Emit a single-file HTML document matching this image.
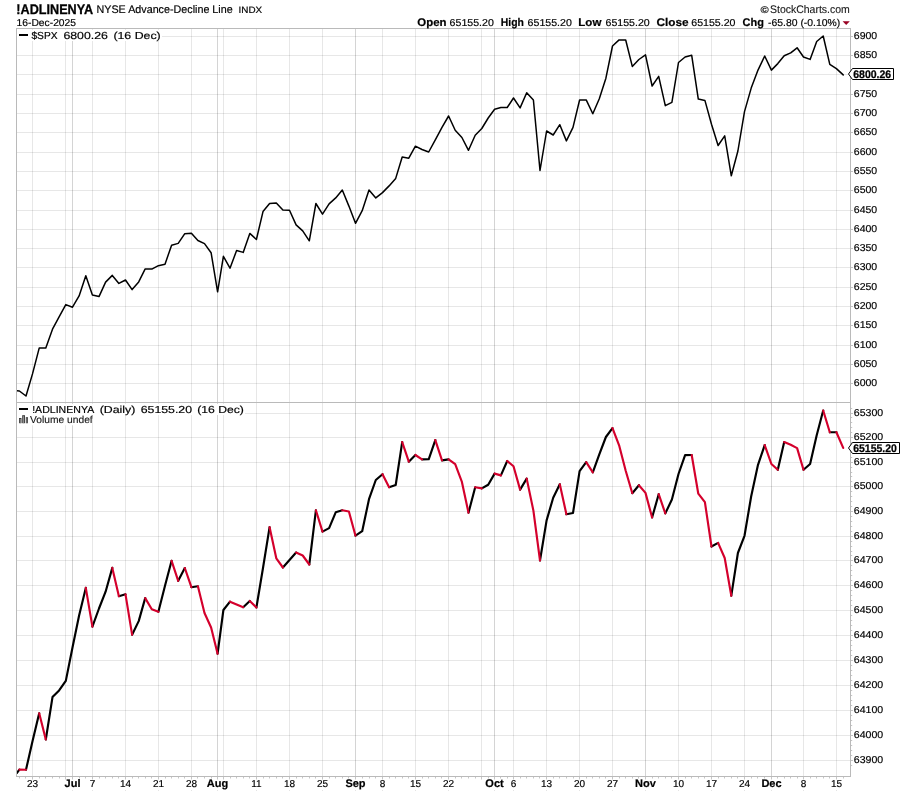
<!DOCTYPE html>
<html><head><meta charset="utf-8"><title>!ADLINENYA</title>
<style>html,body{margin:0;padding:0;background:#fff}body{width:900px;height:792px;overflow:hidden}svg{display:block}text{font-family:"Liberation Sans",sans-serif;fill:#000;text-rendering:geometricPrecision}.b{font-weight:bold}</style></head><body>
<svg width="900" height="792" viewBox="0 0 900 792" style="will-change:transform">
<rect width="900" height="792" fill="#fff"/>
<path d="M16.5 36.5H850.5M16.5 55.5H850.5M16.5 74.5H850.5M16.5 94.5H850.5M16.5 113.5H850.5M16.5 132.5H850.5M16.5 152.5H850.5M16.5 171.5H850.5M16.5 190.5H850.5M16.5 210.5H850.5M16.5 229.5H850.5M16.5 248.5H850.5M16.5 267.5H850.5M16.5 287.5H850.5M16.5 306.5H850.5M16.5 325.5H850.5M16.5 345.5H850.5M16.5 364.5H850.5M16.5 383.5H850.5M16.5 413.5H850.5M16.5 437.5H850.5M16.5 462.5H850.5M16.5 486.5H850.5M16.5 511.5H850.5M16.5 536.5H850.5M16.5 560.5H850.5M16.5 585.5H850.5M16.5 610.5H850.5M16.5 635.5H850.5M16.5 660.5H850.5M16.5 685.5H850.5M16.5 710.5H850.5M16.5 735.5H850.5M16.5 760.5H850.5" stroke="#000" stroke-opacity="0.095" stroke-width="1" fill="none" shape-rendering="crispEdges"/>
<path d="M32.5 28.5V776.5M65.5 28.5V776.5M92.5 28.5V776.5M125.5 28.5V776.5M158.5 28.5V776.5M191.5 28.5V776.5M223.5 28.5V776.5M256.5 28.5V776.5M289.5 28.5V776.5M322.5 28.5V776.5M382.5 28.5V776.5M415.5 28.5V776.5M448.5 28.5V776.5M481.5 28.5V776.5M513.5 28.5V776.5M546.5 28.5V776.5M579.5 28.5V776.5M612.5 28.5V776.5M678.5 28.5V776.5M711.5 28.5V776.5M744.5 28.5V776.5M803.5 28.5V776.5M836.5 28.5V776.5" stroke="#000" stroke-opacity="0.095" stroke-width="1" fill="none" shape-rendering="crispEdges"/>
<path d="M72.5 28.5V776.5M217.5 28.5V776.5M355.5 28.5V776.5M494.5 28.5V776.5M645.5 28.5V776.5M771.5 28.5V776.5" stroke="#000" stroke-opacity="0.17" stroke-width="1" fill="none" shape-rendering="crispEdges"/>
<path d="M19.5 777.0v1.5M25.5 777.0v1.5M32.5 777.0v2.5M39.5 777.0v1.5M45.5 777.0v1.5M52.5 777.0v1.5M59.5 777.0v1.5M65.5 777.0v2.5M72.5 777.0v2.5M79.5 777.0v1.5M85.5 777.0v1.5M92.5 777.0v2.5M99.5 777.0v1.5M105.5 777.0v1.5M112.5 777.0v1.5M118.5 777.0v1.5M125.5 777.0v2.5M132.5 777.0v1.5M138.5 777.0v1.5M145.5 777.0v1.5M151.5 777.0v1.5M158.5 777.0v2.5M165.5 777.0v1.5M171.5 777.0v1.5M178.5 777.0v1.5M184.5 777.0v1.5M191.5 777.0v2.5M197.5 777.0v1.5M204.5 777.0v1.5M211.5 777.0v1.5M217.5 777.0v2.5M223.5 777.0v2.5M230.5 777.0v1.5M236.5 777.0v1.5M243.5 777.0v1.5M249.5 777.0v1.5M256.5 777.0v2.5M263.5 777.0v1.5M269.5 777.0v1.5M276.5 777.0v1.5M282.5 777.0v1.5M289.5 777.0v2.5M296.5 777.0v1.5M302.5 777.0v1.5M309.5 777.0v1.5M315.5 777.0v1.5M322.5 777.0v2.5M329.5 777.0v1.5M335.5 777.0v1.5M342.5 777.0v1.5M348.5 777.0v1.5M355.5 777.0v2.5M362.5 777.0v1.5M369.5 777.0v1.5M375.5 777.0v1.5M382.5 777.0v2.5M389.5 777.0v1.5M395.5 777.0v1.5M402.5 777.0v1.5M408.5 777.0v1.5M415.5 777.0v2.5M422.5 777.0v1.5M428.5 777.0v1.5M435.5 777.0v1.5M441.5 777.0v1.5M448.5 777.0v2.5M455.5 777.0v1.5M461.5 777.0v1.5M468.5 777.0v1.5M475.5 777.0v1.5M481.5 777.0v2.5M488.5 777.0v1.5M494.5 777.0v2.5M500.5 777.0v1.5M507.5 777.0v1.5M513.5 777.0v2.5M520.5 777.0v1.5M526.5 777.0v1.5M533.5 777.0v1.5M539.5 777.0v1.5M546.5 777.0v2.5M553.5 777.0v1.5M559.5 777.0v1.5M566.5 777.0v1.5M573.5 777.0v1.5M579.5 777.0v2.5M586.5 777.0v1.5M592.5 777.0v1.5M599.5 777.0v1.5M605.5 777.0v1.5M612.5 777.0v2.5M619.5 777.0v1.5M625.5 777.0v1.5M632.5 777.0v1.5M638.5 777.0v1.5M645.5 777.0v2.5M652.5 777.0v1.5M658.5 777.0v1.5M665.5 777.0v1.5M671.5 777.0v1.5M678.5 777.0v2.5M685.5 777.0v1.5M691.5 777.0v1.5M698.5 777.0v1.5M704.5 777.0v1.5M711.5 777.0v2.5M718.5 777.0v1.5M724.5 777.0v1.5M731.5 777.0v1.5M737.5 777.0v1.5M744.5 777.0v2.5M751.5 777.0v1.5M757.5 777.0v1.5M764.5 777.0v1.5M771.5 777.0v2.5M777.5 777.0v1.5M784.5 777.0v1.5M790.5 777.0v1.5M797.5 777.0v1.5M803.5 777.0v2.5M810.5 777.0v1.5M816.5 777.0v1.5M823.5 777.0v1.5M829.5 777.0v1.5M836.5 777.0v2.5M843.5 777.0v1.5" stroke="#c6c6c6" stroke-width="1" fill="none"/>
<path d="M32.5 790v1M92.5 790v1M125.5 790v1M158.5 790v1M191.5 790v1M256.5 790v1M289.5 790v1M322.5 790v1M382.5 790v1M415.5 790v1M448.5 790v1M513.5 790v1M546.5 790v1M579.5 790v1M612.5 790v1M678.5 790v1M711.5 790v1M744.5 790v1M803.5 790v1M836.5 790v1M72.5 790v1M217.5 790v1M355.5 790v1M494.5 790v1M645.5 790v1M771.5 790v1" stroke="#e4e4e4" stroke-width="1" fill="none"/>
<path d="M851.0 36.5h2M851.0 55.5h2M851.0 74.5h2M851.0 94.5h2M851.0 113.5h2M851.0 132.5h2M851.0 152.5h2M851.0 171.5h2M851.0 190.5h2M851.0 210.5h2M851.0 229.5h2M851.0 248.5h2M851.0 267.5h2M851.0 287.5h2M851.0 306.5h2M851.0 325.5h2M851.0 345.5h2M851.0 364.5h2M851.0 383.5h2M851.0 408.5h1.2M851.0 413.5h2M851.0 417.5h1.2M851.0 422.5h1.2M851.0 427.5h1.2M851.0 432.5h1.2M851.0 437.5h2M851.0 442.5h1.2M851.0 447.5h1.2M851.0 452.5h1.2M851.0 457.5h1.2M851.0 462.5h2M851.0 467.5h1.2M851.0 472.5h1.2M851.0 476.5h1.2M851.0 481.5h1.2M851.0 486.5h2M851.0 491.5h1.2M851.0 496.5h1.2M851.0 501.5h1.2M851.0 506.5h1.2M851.0 511.5h2M851.0 516.5h1.2M851.0 521.5h1.2M851.0 526.5h1.2M851.0 531.5h1.2M851.0 536.5h2M851.0 541.5h1.2M851.0 546.5h1.2M851.0 551.5h1.2M851.0 555.5h1.2M851.0 560.5h2M851.0 565.5h1.2M851.0 570.5h1.2M851.0 575.5h1.2M851.0 580.5h1.2M851.0 585.5h2M851.0 590.5h1.2M851.0 595.5h1.2M851.0 600.5h1.2M851.0 605.5h1.2M851.0 610.5h2M851.0 615.5h1.2M851.0 620.5h1.2M851.0 625.5h1.2M851.0 630.5h1.2M851.0 635.5h2M851.0 640.5h1.2M851.0 645.5h1.2M851.0 650.5h1.2M851.0 655.5h1.2M851.0 660.5h2M851.0 665.5h1.2M851.0 670.5h1.2M851.0 675.5h1.2M851.0 680.5h1.2M851.0 685.5h2M851.0 690.5h1.2M851.0 695.5h1.2M851.0 700.5h1.2M851.0 705.5h1.2M851.0 710.5h2M851.0 715.5h1.2M851.0 720.5h1.2M851.0 725.5h1.2M851.0 730.5h1.2M851.0 735.5h2M851.0 740.5h1.2M851.0 745.5h1.2M851.0 750.5h1.2M851.0 755.5h1.2M851.0 760.5h2M851.0 765.5h1.2" stroke="#c4c4c4" stroke-width="1" fill="none"/>
<path d="M16.5 28.5H850.5V776.5H16.5ZM16.5 402.5H850.5" stroke="#bababa" stroke-width="1" fill="none" shape-rendering="crispEdges"/>
<rect x="17" y="30" width="145" height="11" fill="#fff"/>
<rect x="17" y="404" width="228" height="11" fill="#fff"/>
<rect x="17" y="415" width="75" height="10.3" fill="#fff"/>
<clipPath id="c1"><rect x="17" y="29" width="833" height="373"/></clipPath>
<polyline clip-path="url(#c1)" points="12.9,390.3 19.4,391.0 26.0,396.0 32.5,373.9 39.2,348.1 45.8,348.1 52.5,329.2 59.1,316.8 65.8,304.6 72.5,307.2 79.1,295.9 85.8,275.8 92.4,294.9 99.0,296.6 105.6,282.1 112.3,275.4 118.9,283.4 125.5,280.0 132.1,289.6 138.7,281.9 145.2,268.9 151.8,269.1 158.4,265.7 165.0,264.2 171.6,245.2 178.2,243.4 184.8,233.7 191.4,233.2 197.9,240.5 204.5,243.6 211.1,252.7 217.6,291.8 223.4,256.3 230.0,268.2 236.6,250.5 243.2,252.4 249.8,233.4 256.4,239.5 263.0,211.6 269.6,203.6 276.3,202.9 282.9,210.1 289.5,210.3 296.1,224.9 302.7,230.9 309.3,240.8 315.9,203.5 322.5,214.1 329.1,203.9 335.7,197.9 342.3,190.0 348.9,206.1 355.5,223.3 362.2,210.7 369.0,189.9 375.8,197.9 382.5,192.6 389.1,185.9 395.7,178.4 402.2,157.0 408.8,158.2 415.4,146.2 422.0,149.5 428.7,152.0 435.3,139.8 442.0,127.3 448.6,116.0 455.2,130.2 461.9,137.5 468.5,150.3 475.2,135.3 481.8,128.5 488.2,118.0 494.6,109.2 500.9,107.6 507.2,107.5 513.5,98.0 520.1,107.9 526.7,92.8 533.4,100.0 540.0,170.5 546.6,131.0 553.2,135.0 559.8,124.7 566.4,140.9 573.0,127.4 579.6,100.0 586.2,99.9 592.8,113.8 599.3,98.7 605.9,78.2 612.5,46.0 619.1,39.9 625.7,40.0 632.3,66.4 638.9,59.5 645.5,54.9 652.1,86.0 658.7,76.4 665.3,105.7 671.9,102.4 678.5,62.5 685.1,57.0 691.7,55.3 698.3,99.1 704.9,100.4 711.5,124.2 718.1,145.5 724.7,135.9 731.3,175.8 737.9,151.0 744.5,111.6 751.2,88.1 758.0,70.1 764.7,56.0 771.4,70.1 777.8,63.6 784.2,55.8 790.7,52.9 797.1,47.8 803.5,57.0 810.1,59.4 816.7,41.5 823.2,36.0 829.8,64.4 836.4,68.6 843.2,74.9" fill="none" stroke="#000" stroke-width="1.5" stroke-linejoin="round" stroke-linecap="round"/>
<clipPath id="c2"><rect x="17" y="403" width="833" height="373"/></clipPath>
<g clip-path="url(#c2)" fill="none" stroke-width="2.15" stroke-linejoin="round" stroke-linecap="round">
<path d="M16.8 773.0 L19.4 769.6M26.0 769.7 L32.5 741.3 L39.2 713.3M45.8 739.5 L52.5 697.1 L59.1 690.4 L65.8 680.9 L72.5 647.5 L79.1 615.5 L85.8 587.9M92.4 626.6 L99.0 608.5 L105.6 591.7 L112.3 567.9M118.9 596.2 L125.5 594.3M132.1 634.7 L138.7 621.1 L145.2 598.1M158.4 611.8 L165.0 585.8 L171.6 560.8M178.2 580.8 L184.8 568.0M191.4 587.2 L197.9 586.3M217.6 653.7 L223.4 610.0 L230.0 601.7M243.2 607.2 L249.8 601.0M256.4 607.5 L263.0 568.0 L269.6 527.2M282.9 567.5 L289.5 560.0 L296.1 552.5M309.3 564.5 L315.9 510.3M322.5 531.6 L329.1 528.1 L335.7 512.3 L342.3 510.3M355.5 535.7 L362.2 531.2 L369.0 499.2 L375.8 480.0 L382.5 474.2M389.1 487.2 L395.7 485.0 L402.2 442.1M408.8 461.7 L415.4 455.0M422.0 459.4 L428.7 459.3 L435.3 440.1M442.0 460.4 L448.6 459.4M468.5 512.7 L475.2 487.3M481.8 488.4 L488.2 484.7 L494.6 473.6M500.9 475.4 L507.2 461.0M520.1 489.6 L526.7 478.6M540.0 560.5 L546.6 520.4 L553.2 497.8 L559.8 484.3M566.4 514.2 L573.0 513.0 L579.6 471.2 L586.2 462.2M592.8 472.3 L599.3 454.4 L605.9 437.0 L612.5 428.1M632.3 493.2 L638.9 485.2M652.1 517.5 L658.7 494.2M665.3 513.4 L671.9 499.5 L678.5 474.0 L685.1 455.1 L691.7 455.0M711.5 546.5 L718.1 542.9M731.3 595.7 L737.9 553.0 L744.5 535.8 L751.2 496.2 L758.0 464.8 L764.7 445.1M777.8 469.8 L784.2 442.0M803.5 469.8 L810.1 464.0 L816.7 435.3 L823.2 410.5M829.8 432.3 L836.4 432.2" stroke="#000"/>
<path d="M19.4 769.6 L26.0 769.7M39.2 713.3 L45.8 739.5M85.8 587.9 L92.4 626.6M112.3 567.9 L118.9 596.2M125.5 594.3 L132.1 634.7M145.2 598.1 L151.8 609.2 L158.4 611.8M171.6 560.8 L178.2 580.8M184.8 568.0 L191.4 587.2M197.9 586.3 L204.5 613.0 L211.1 627.5 L217.6 653.7M230.0 601.7 L236.6 604.5 L243.2 607.2M249.8 601.0 L256.4 607.5M269.6 527.2 L276.3 558.3 L282.9 567.5M296.1 552.5 L302.7 555.5 L309.3 564.5M315.9 510.3 L322.5 531.6M342.3 510.3 L348.9 511.5 L355.5 535.7M382.5 474.2 L389.1 487.2M402.2 442.1 L408.8 461.7M415.4 455.0 L422.0 459.4M435.3 440.1 L442.0 460.4M448.6 459.4 L455.2 464.2 L461.9 481.9 L468.5 512.7M475.2 487.3 L481.8 488.4M494.6 473.6 L500.9 475.4M507.2 461.0 L513.5 466.3 L520.1 489.6M526.7 478.6 L533.4 510.6 L540.0 560.5M559.8 484.3 L566.4 514.2M586.2 462.2 L592.8 472.3M612.5 428.1 L619.1 445.3 L625.7 470.7 L632.3 493.2M638.9 485.2 L645.5 492.9 L652.1 517.5M658.7 494.2 L665.3 513.4M691.7 455.0 L698.3 493.7 L704.9 502.2 L711.5 546.5M718.1 542.9 L724.7 558.0 L731.3 595.7M764.7 445.1 L771.4 464.0 L777.8 469.8M784.2 442.0 L790.7 444.8 L797.1 448.1 L803.5 469.8M823.2 410.5 L829.8 432.3M836.4 432.2 L843.2 447.9" stroke="#d4002c"/>
</g>
<text x="853.8" y="39.0" font-size="10" textLength="23.4" lengthAdjust="spacingAndGlyphs" stroke="#000" stroke-width="0.18">6900</text>
<text x="853.8" y="58.0" font-size="10" textLength="23.4" lengthAdjust="spacingAndGlyphs" stroke="#000" stroke-width="0.18">6850</text>
<text x="853.8" y="97.0" font-size="10" textLength="23.4" lengthAdjust="spacingAndGlyphs" stroke="#000" stroke-width="0.18">6750</text>
<text x="853.8" y="116.0" font-size="10" textLength="23.4" lengthAdjust="spacingAndGlyphs" stroke="#000" stroke-width="0.18">6700</text>
<text x="853.8" y="135.0" font-size="10" textLength="23.4" lengthAdjust="spacingAndGlyphs" stroke="#000" stroke-width="0.18">6650</text>
<text x="853.8" y="155.0" font-size="10" textLength="23.4" lengthAdjust="spacingAndGlyphs" stroke="#000" stroke-width="0.18">6600</text>
<text x="853.8" y="174.0" font-size="10" textLength="23.4" lengthAdjust="spacingAndGlyphs" stroke="#000" stroke-width="0.18">6550</text>
<text x="853.8" y="193.0" font-size="10" textLength="23.4" lengthAdjust="spacingAndGlyphs" stroke="#000" stroke-width="0.18">6500</text>
<text x="853.8" y="213.0" font-size="10" textLength="23.4" lengthAdjust="spacingAndGlyphs" stroke="#000" stroke-width="0.18">6450</text>
<text x="853.8" y="232.0" font-size="10" textLength="23.4" lengthAdjust="spacingAndGlyphs" stroke="#000" stroke-width="0.18">6400</text>
<text x="853.8" y="251.0" font-size="10" textLength="23.4" lengthAdjust="spacingAndGlyphs" stroke="#000" stroke-width="0.18">6350</text>
<text x="853.8" y="270.0" font-size="10" textLength="23.4" lengthAdjust="spacingAndGlyphs" stroke="#000" stroke-width="0.18">6300</text>
<text x="853.8" y="290.0" font-size="10" textLength="23.4" lengthAdjust="spacingAndGlyphs" stroke="#000" stroke-width="0.18">6250</text>
<text x="853.8" y="309.0" font-size="10" textLength="23.4" lengthAdjust="spacingAndGlyphs" stroke="#000" stroke-width="0.18">6200</text>
<text x="853.8" y="328.0" font-size="10" textLength="23.4" lengthAdjust="spacingAndGlyphs" stroke="#000" stroke-width="0.18">6150</text>
<text x="853.8" y="348.0" font-size="10" textLength="23.4" lengthAdjust="spacingAndGlyphs" stroke="#000" stroke-width="0.18">6100</text>
<text x="853.8" y="367.0" font-size="10" textLength="23.4" lengthAdjust="spacingAndGlyphs" stroke="#000" stroke-width="0.18">6050</text>
<text x="853.8" y="386.0" font-size="10" textLength="23.4" lengthAdjust="spacingAndGlyphs" stroke="#000" stroke-width="0.18">6000</text>
<text x="853.8" y="416.0" font-size="10" textLength="29.4" lengthAdjust="spacingAndGlyphs" stroke="#000" stroke-width="0.18">65300</text>
<text x="853.8" y="440.0" font-size="10" textLength="29.4" lengthAdjust="spacingAndGlyphs" stroke="#000" stroke-width="0.18">65200</text>
<text x="853.8" y="465.0" font-size="10" textLength="29.4" lengthAdjust="spacingAndGlyphs" stroke="#000" stroke-width="0.18">65100</text>
<text x="853.8" y="489.0" font-size="10" textLength="29.4" lengthAdjust="spacingAndGlyphs" stroke="#000" stroke-width="0.18">65000</text>
<text x="853.8" y="514.0" font-size="10" textLength="29.4" lengthAdjust="spacingAndGlyphs" stroke="#000" stroke-width="0.18">64900</text>
<text x="853.8" y="539.0" font-size="10" textLength="29.4" lengthAdjust="spacingAndGlyphs" stroke="#000" stroke-width="0.18">64800</text>
<text x="853.8" y="563.0" font-size="10" textLength="29.4" lengthAdjust="spacingAndGlyphs" stroke="#000" stroke-width="0.18">64700</text>
<text x="853.8" y="588.0" font-size="10" textLength="29.4" lengthAdjust="spacingAndGlyphs" stroke="#000" stroke-width="0.18">64600</text>
<text x="853.8" y="613.0" font-size="10" textLength="29.4" lengthAdjust="spacingAndGlyphs" stroke="#000" stroke-width="0.18">64500</text>
<text x="853.8" y="638.0" font-size="10" textLength="29.4" lengthAdjust="spacingAndGlyphs" stroke="#000" stroke-width="0.18">64400</text>
<text x="853.8" y="663.0" font-size="10" textLength="29.4" lengthAdjust="spacingAndGlyphs" stroke="#000" stroke-width="0.18">64300</text>
<text x="853.8" y="688.0" font-size="10" textLength="29.4" lengthAdjust="spacingAndGlyphs" stroke="#000" stroke-width="0.18">64200</text>
<text x="853.8" y="713.0" font-size="10" textLength="29.4" lengthAdjust="spacingAndGlyphs" stroke="#000" stroke-width="0.18">64100</text>
<text x="853.8" y="738.0" font-size="10" textLength="29.4" lengthAdjust="spacingAndGlyphs" stroke="#000" stroke-width="0.18">64000</text>
<text x="853.8" y="763.0" font-size="10" textLength="29.4" lengthAdjust="spacingAndGlyphs" stroke="#000" stroke-width="0.18">63900</text>
<path d="M848.5 74L852.5 68.5H893.5V79.5H852.5Z" fill="#fff" stroke="#000" stroke-width="1"/>
<text x="853.2" y="77.9" font-size="11" class="b" textLength="38" lengthAdjust="spacingAndGlyphs" stroke="#000" stroke-width="0.25">6800.26</text>
<path d="M848.5 448L852.5 442.5H899.5V453.5H852.5Z" fill="#fff" stroke="#000" stroke-width="1"/>
<text x="853.2" y="451.9" font-size="11" class="b" textLength="43.6" lengthAdjust="spacingAndGlyphs" stroke="#000" stroke-width="0.25">65155.20</text>
<text x="32.5" y="787" font-size="10" text-anchor="middle" stroke="#000" stroke-width="0.18">23</text>
<text x="92.5" y="787" font-size="10" text-anchor="middle" stroke="#000" stroke-width="0.18">7</text>
<text x="125.5" y="787" font-size="10" text-anchor="middle" stroke="#000" stroke-width="0.18">14</text>
<text x="158.5" y="787" font-size="10" text-anchor="middle" stroke="#000" stroke-width="0.18">21</text>
<text x="191.5" y="787" font-size="10" text-anchor="middle" stroke="#000" stroke-width="0.18">28</text>
<text x="256.5" y="787" font-size="10" text-anchor="middle" stroke="#000" stroke-width="0.18">11</text>
<text x="289.5" y="787" font-size="10" text-anchor="middle" stroke="#000" stroke-width="0.18">18</text>
<text x="322.5" y="787" font-size="10" text-anchor="middle" stroke="#000" stroke-width="0.18">25</text>
<text x="382.5" y="787" font-size="10" text-anchor="middle" stroke="#000" stroke-width="0.18">8</text>
<text x="415.5" y="787" font-size="10" text-anchor="middle" stroke="#000" stroke-width="0.18">15</text>
<text x="448.5" y="787" font-size="10" text-anchor="middle" stroke="#000" stroke-width="0.18">22</text>
<text x="513.5" y="787" font-size="10" text-anchor="middle" stroke="#000" stroke-width="0.18">6</text>
<text x="546.5" y="787" font-size="10" text-anchor="middle" stroke="#000" stroke-width="0.18">13</text>
<text x="579.5" y="787" font-size="10" text-anchor="middle" stroke="#000" stroke-width="0.18">20</text>
<text x="612.5" y="787" font-size="10" text-anchor="middle" stroke="#000" stroke-width="0.18">27</text>
<text x="678.5" y="787" font-size="10" text-anchor="middle" stroke="#000" stroke-width="0.18">10</text>
<text x="711.5" y="787" font-size="10" text-anchor="middle" stroke="#000" stroke-width="0.18">17</text>
<text x="744.5" y="787" font-size="10" text-anchor="middle" stroke="#000" stroke-width="0.18">24</text>
<text x="803.5" y="787" font-size="10" text-anchor="middle" stroke="#000" stroke-width="0.18">8</text>
<text x="836.5" y="787" font-size="10" text-anchor="middle" stroke="#000" stroke-width="0.18">15</text>
<text x="72.5" y="786.9" font-size="11" class="b" text-anchor="middle" stroke="#000" stroke-width="0.2">Jul</text>
<text x="217.5" y="786.9" font-size="11" class="b" text-anchor="middle" stroke="#000" stroke-width="0.2">Aug</text>
<text x="355.5" y="786.9" font-size="11" class="b" text-anchor="middle" stroke="#000" stroke-width="0.2">Sep</text>
<text x="494.5" y="786.9" font-size="11" class="b" text-anchor="middle" stroke="#000" stroke-width="0.2">Oct</text>
<text x="645.5" y="786.9" font-size="11" class="b" text-anchor="middle" stroke="#000" stroke-width="0.2">Nov</text>
<text x="771.5" y="786.9" font-size="11" class="b" text-anchor="middle" stroke="#000" stroke-width="0.2">Dec</text>
<text x="16.3" y="13.5" font-size="13.8" class="b" textLength="76.8" lengthAdjust="spacingAndGlyphs" stroke="#000" stroke-width="0.3">!ADLINENYA</text>
<text x="96.5" y="12.8" font-size="11" textLength="136.2" lengthAdjust="spacingAndGlyphs" stroke="#000" stroke-width="0.18">NYSE Advance-Decline Line</text>
<text x="238.6" y="12.8" font-size="9.2" textLength="23.6" lengthAdjust="spacingAndGlyphs" stroke="#000" stroke-width="0.18">INDX</text>
<text x="16.6" y="25.6" font-size="10" textLength="59.4" lengthAdjust="spacingAndGlyphs" stroke="#000" stroke-width="0.18">16-Dec-2025</text>
<text x="760.6" y="13.0" font-size="9.5" class="b" textLength="8.2" lengthAdjust="spacingAndGlyphs" fill="#555" stroke="#555" stroke-width="0.18">©</text>
<text x="770" y="13.1" font-size="11" textLength="79.8" lengthAdjust="spacingAndGlyphs" fill="#727272" stroke="#727272" stroke-width="0.18">StockCharts.com</text>
<text x="417.3" y="25.7" font-size="11.2" class="b" textLength="29.200000000000003" lengthAdjust="spacingAndGlyphs" stroke="#000" stroke-width="0.2">Open</text>
<text x="449.6" y="25.7" font-size="10" textLength="44.2" lengthAdjust="spacingAndGlyphs" stroke="#000" stroke-width="0.18">65155.20</text>
<text x="500.8" y="25.7" font-size="11.2" class="b" textLength="23.1" lengthAdjust="spacingAndGlyphs" stroke="#000" stroke-width="0.2">High</text>
<text x="527.6" y="25.7" font-size="10" textLength="44.2" lengthAdjust="spacingAndGlyphs" stroke="#000" stroke-width="0.18">65155.20</text>
<text x="578.3000000000001" y="25.7" font-size="11.2" class="b" textLength="23.1" lengthAdjust="spacingAndGlyphs" stroke="#000" stroke-width="0.2">Low</text>
<text x="605.5" y="25.7" font-size="10" textLength="44.2" lengthAdjust="spacingAndGlyphs" stroke="#000" stroke-width="0.18">65155.20</text>
<text x="656.4" y="25.7" font-size="11.2" class="b" textLength="32.1" lengthAdjust="spacingAndGlyphs" stroke="#000" stroke-width="0.2">Close</text>
<text x="691.3" y="25.7" font-size="10" textLength="44.2" lengthAdjust="spacingAndGlyphs" stroke="#000" stroke-width="0.18">65155.20</text>
<text x="742.6" y="25.7" font-size="11.2" class="b" textLength="21.3" lengthAdjust="spacingAndGlyphs" stroke="#000" stroke-width="0.2">Chg</text>
<text x="768" y="25.7" font-size="10" textLength="72.3" lengthAdjust="spacingAndGlyphs" stroke="#000" stroke-width="0.18">-65.80 (-0.10%)</text>
<path d="M842.6 21.3h7.2l-3.6 3.8z" fill="#990022"/>
<rect x="19" y="34" width="9" height="2" fill="#000"/>
<text x="31.4" y="38.6" font-size="10.2" textLength="26.2" lengthAdjust="spacingAndGlyphs" stroke="#000" stroke-width="0.18">$SPX</text>
<text x="63.4" y="38.6" font-size="10.2" textLength="44.5" lengthAdjust="spacingAndGlyphs" stroke="#000" stroke-width="0.18">6800.26</text>
<text x="113.4" y="38.6" font-size="10.2" textLength="47.3" lengthAdjust="spacingAndGlyphs" stroke="#000" stroke-width="0.18">(16 Dec)</text>
<rect x="19" y="408" width="9" height="2" fill="#000"/>
<text x="32.2" y="413.1" font-size="10.2" textLength="62" lengthAdjust="spacingAndGlyphs" stroke="#000" stroke-width="0.18">!ADLINENYA</text>
<text x="99.7" y="413.1" font-size="10.2" textLength="35.6" lengthAdjust="spacingAndGlyphs" stroke="#000" stroke-width="0.18">(Daily)</text>
<text x="140.7" y="413.1" font-size="10.2" textLength="51.4" lengthAdjust="spacingAndGlyphs" stroke="#000" stroke-width="0.18">65155.20</text>
<text x="197.3" y="413.1" font-size="10.2" textLength="46.6" lengthAdjust="spacingAndGlyphs" stroke="#000" stroke-width="0.18">(16 Dec)</text>
<g fill="#3c3c3c"><rect x="19" y="418" width="2.5" height="5.2"/><rect x="22.2" y="415.2" width="2.8" height="8"/><rect x="25.8" y="417.2" width="2.2" height="6"/></g>
<g fill="#9a9a9a"><rect x="19.8" y="419" width="0.9" height="4.2"/><rect x="23.1" y="416.2" width="1" height="7"/><rect x="26.5" y="418.2" width="0.8" height="5"/></g>
<text x="30" y="422.7" font-size="10.2" textLength="62.7" lengthAdjust="spacingAndGlyphs" fill="#606060" stroke="#606060" stroke-width="0.18">Volume undef</text>
</svg></body></html>
